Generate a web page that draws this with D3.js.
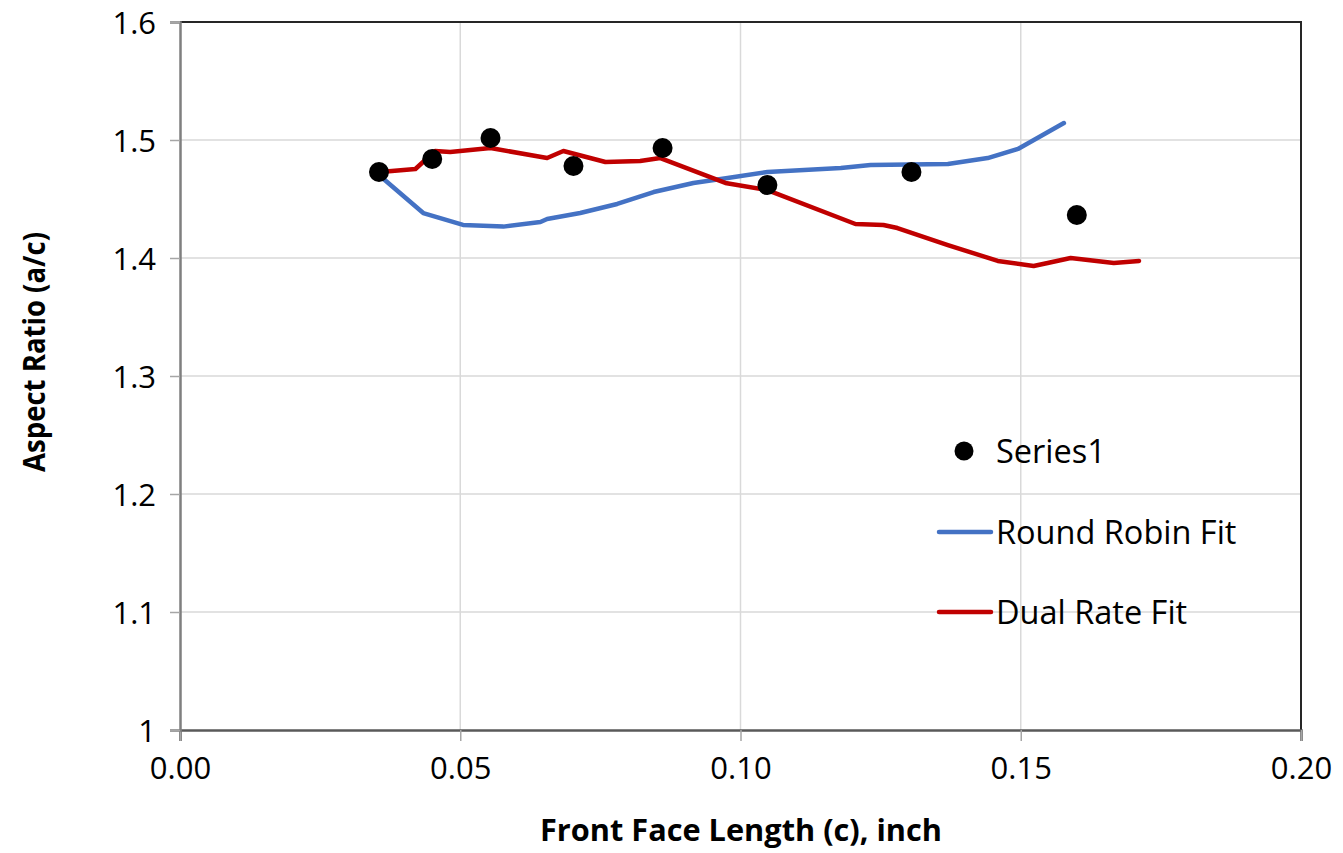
<!DOCTYPE html>
<html>
<head>
<meta charset="utf-8">
<script src="https://cdn.jsdelivr.net/npm/d3@7"></script>
<style>
  html, body { margin: 0; padding: 0; background: #fff; }
  svg { display: block; font-family: "Open Sans", sans-serif; }
</style>
</head>
<body>
<svg id="chart" width="1343" height="853"></svg>
<script>
// Measured aspect ratio vs. front face crack length
const seriesX = [0.0355, 0.0450, 0.0554, 0.0702, 0.0861, 0.1048, 0.1305, 0.1600];
const seriesY = [1.4729, 1.4839, 1.5017, 1.4780, 1.4932, 1.4619, 1.4729, 1.4364];

// Round Robin fit curve
const roundRobinX = [0.0357, 0.0434, 0.0505, 0.0577, 0.0643, 0.0655, 0.0714, 0.0780, 0.0845, 0.0916,
                     0.0977, 0.1048, 0.1179, 0.1232, 0.1370, 0.1441, 0.1495, 0.1536, 0.1577];
const roundRobinY = [1.4695, 1.4381, 1.4280, 1.4266, 1.4305, 1.4331, 1.4381, 1.4458, 1.4559, 1.4636,
                     1.4678, 1.4729, 1.4763, 1.4788, 1.4797, 1.4847, 1.4924, 1.5034, 1.5144];

// Dual Rate fit curve
const dualRateX = [0.0357, 0.0420, 0.0455, 0.0482, 0.0554, 0.0655, 0.0684, 0.0759, 0.0821, 0.0857,
                   0.0973, 0.1048, 0.1205, 0.1255, 0.1280, 0.1370, 0.1459, 0.1523, 0.1548, 0.1589,
                   0.1666, 0.1711];
const dualRateY = [1.4729, 1.4754, 1.4907, 1.4898, 1.4932, 1.4847, 1.4907, 1.4814, 1.4822, 1.4847,
                   1.4636, 1.4576, 1.4288, 1.4280, 1.4254, 1.4110, 1.3975, 1.3932, 1.3958, 1.4000,
                   1.3958, 1.3975];

const xTicks = [0, 0.05, 0.10, 0.15, 0.20];
const yTicks = [1.0, 1.1, 1.2, 1.3, 1.4, 1.5, 1.6];
const legendLabels = ["Series1", "Round Robin Fit", "Dual Rate Fit"];

const svg = d3.select("#chart");
const m = { left: 180, top: 22, right: 1301, bottom: 730 };

const x = d3.scaleLinear().domain([0, 0.20]).range([m.left, m.right]);
const y = d3.scaleLinear().domain([1.0, 1.6]).range([m.bottom, m.top]);

const blue = "#4472c4", red = "#c00000";

// gridlines
const grid = svg.append("g");
grid.selectAll("line.h").data(yTicks.slice(1)).join("line")
  .attr("x1", m.left).attr("x2", m.right)
  .attr("y1", d => y(d)).attr("y2", d => y(d))
  .attr("stroke", "#d9d9d9").attr("stroke-width", 1.5);
grid.selectAll("line.v").data(xTicks.slice(1)).join("line")
  .attr("y1", m.top).attr("y2", m.bottom)
  .attr("x1", d => x(d)).attr("x2", d => x(d))
  .attr("stroke", "#d9d9d9").attr("stroke-width", 1.5);

// plot frame (top / right)
svg.append("path")
  .attr("d", `M${m.left},${m.top}H${m.right}V${m.bottom}`)
  .attr("fill", "none").attr("stroke", "#262626").attr("stroke-width", 2);

// axes
const xAxis = svg.append("g").attr("transform", `translate(0,${m.bottom})`)
  .call(d3.axisBottom(x).tickValues(xTicks).tickFormat(d3.format(".2f")).tickSize(11).tickPadding(16));
const yAxis = svg.append("g").attr("transform", `translate(${m.left},0)`)
  .call(d3.axisLeft(y).tickValues(yTicks).tickFormat(d => d === 1 ? "1" : d3.format(".1f")(d)).tickSize(10).tickPadding(14));

[xAxis, yAxis].forEach(a => {
  a.select(".domain").attr("stroke", "#7f7f7f").attr("stroke-width", 2.5);
  a.selectAll(".tick line").attr("stroke", "#a6a6a6").attr("stroke-width", 1.5);
  a.selectAll(".tick text").attr("fill", "#000").style("font-size", "31px")
    .style("font-family", "'Open Sans', sans-serif");
});
xAxis.select(".domain").attr("stroke", "#595959");
yAxis.selectAll(".tick text").attr("dy", "0.36em");

// fit lines
const line = d3.line().x(d => x(d[0])).y(d => y(d[1]));
svg.append("path").datum(d3.zip(roundRobinX, roundRobinY))
  .attr("d", line).attr("fill", "none").attr("stroke", blue)
  .attr("stroke-width", 4.5).attr("stroke-linejoin", "round").attr("stroke-linecap", "round");
svg.append("path").datum(d3.zip(dualRateX, dualRateY))
  .attr("d", line).attr("fill", "none").attr("stroke", red)
  .attr("stroke-width", 4.5).attr("stroke-linejoin", "round").attr("stroke-linecap", "round");

// measured points
svg.append("g").selectAll("circle").data(d3.zip(seriesX, seriesY)).join("circle")
  .attr("cx", d => x(d[0])).attr("cy", d => y(d[1])).attr("r", 10).attr("fill", "#000");

// axis titles
svg.append("text").attr("x", 741).attr("y", 841)
  .attr("text-anchor", "middle").style("font-size", "30px").style("font-weight", "bold")
  .attr("textLength", 402).attr("lengthAdjust", "spacingAndGlyphs")
  .text("Front Face Length (c), inch");
svg.append("text").attr("transform", "translate(45,352) rotate(-90)")
  .attr("text-anchor", "middle").style("font-size", "30px").style("font-weight", "bold")
  .attr("textLength", 240).attr("lengthAdjust", "spacingAndGlyphs")
  .text("Aspect Ratio (a/c)");

// legend
const lg = svg.append("g");
const rowsY = [451, 532, 612];
lg.append("circle").attr("cx", 964).attr("cy", rowsY[0]).attr("r", 9.5).attr("fill", "#000");
lg.append("line").attr("x1", 939).attr("x2", 991).attr("y1", rowsY[1]).attr("y2", rowsY[1])
  .attr("stroke", blue).attr("stroke-width", 4.5).attr("stroke-linecap", "round");
lg.append("line").attr("x1", 939).attr("x2", 991).attr("y1", rowsY[2]).attr("y2", rowsY[2])
  .attr("stroke", red).attr("stroke-width", 4.5).attr("stroke-linecap", "round");
lg.selectAll("text").data(legendLabels).join("text")
  .attr("x", 996).attr("y", (d, i) => rowsY[i]).attr("dy", "0.36em")
  .style("font-size", "32.5px").text(d => d);
</script>
</body>
</html>
